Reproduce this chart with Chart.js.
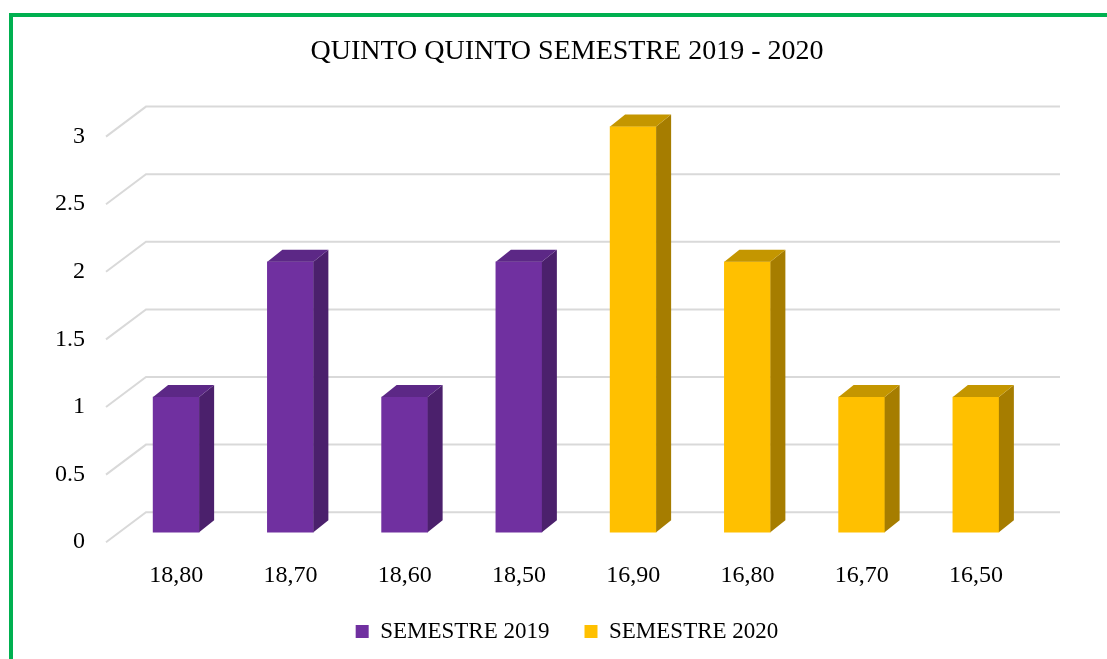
<!DOCTYPE html>
<html lang="es">
<head>
    <meta charset="UTF-8">
    <title>QUINTO QUINTO SEMESTRE 2019 - 2020</title>
    <script src="https://cdn.jsdelivr.net/npm/chart.js"></script>
    <style>
        html, body {
            margin: 0;
            padding: 0;
            background: #fff;
            overflow: hidden;
        }
        .wrap {
            position: relative;
            width: 1107px;
            height: 659px;
        }
        .frame {
            position: absolute;
            left: 9px;
            top: 13px;
            width: 1300px;
            height: 900px;
            border: 4px solid #00b050;
            pointer-events: none;
        }
        canvas {
            position: absolute;
            left: 0;
            top: 0;
        }
    </style>
</head>
<body>
    <div class="wrap">
        <canvas id="myChart" width="1107" height="659"></canvas>
        <div class="frame"></div>
    </div>

    <script>
        const categorias = ['18,80', '18,70', '18,60', '18,50', '16,90', '16,80', '16,70', '16,50'];
        const semestre2019 = [1, 2, 1, 2, null, null, null, null];
        const semestre2020 = [null, null, null, null, 3, 2, 1, 1];
        const titulo = 'QUINTO QUINTO SEMESTRE 2019 - 2020';

        // efecto 3D: paredes con lineas de rejilla y caras laterales/superiores de las barras
        const efecto3D = {
            id: 'efecto3D',
            afterLayout(chart) {
                // dejar sitio a las etiquetas del eje y (se recortan a la caja del eje)
                chart.scales.y.left = 0;
                // subir un poco la leyenda
                chart.legend.top -= 24;
                chart.legend.bottom -= 24;
            },
            beforeDatasetsDraw(chart) {
                const ctx = chart.ctx;
                const y = chart.scales.y;
                const area = chart.chartArea;
                ctx.save();
                ctx.strokeStyle = '#d9d9d9';
                ctx.lineWidth = 2;
                y.ticks.forEach(t => {
                    const py = y.getPixelForValue(t.value);
                    ctx.beginPath();
                    ctx.moveTo(area.left - 13, py);
                    ctx.lineTo(area.left + 27, py - 30);
                    ctx.lineTo(area.right + 27, py - 30);
                    ctx.stroke();
                });
                ctx.restore();
                ctx.save();
                ctx.translate(0, -10);
            },
            afterDatasetsDraw(chart) {
                const ctx = chart.ctx;
                const dx = 15, dy = -12;
                chart.data.datasets.forEach((ds, i) => {
                    const meta = chart.getDatasetMeta(i);
                    meta.data.forEach((bar, j) => {
                        if (ds.data[j] === null) return;
                        const p = bar.getProps(['x', 'y', 'base', 'width'], true);
                        const l = p.x - p.width / 2, r = p.x + p.width / 2;
                        ctx.fillStyle = ds.sideColor;
                        ctx.beginPath();
                        ctx.moveTo(r, p.y);
                        ctx.lineTo(r + dx, p.y + dy);
                        ctx.lineTo(r + dx, p.base + dy);
                        ctx.lineTo(r, p.base);
                        ctx.closePath();
                        ctx.fill();
                        ctx.fillStyle = ds.topColor;
                        ctx.beginPath();
                        ctx.moveTo(l, p.y);
                        ctx.lineTo(l + dx, p.y + dy);
                        ctx.lineTo(r + dx, p.y + dy);
                        ctx.lineTo(r, p.y);
                        ctx.closePath();
                        ctx.fill();
                    });
                });
                ctx.restore();
            }
        };

        const fuente = 'Liberation Serif, Times New Roman, serif';

        const ctx = document.getElementById('myChart').getContext('2d');
        new Chart(ctx, {
            type: 'bar',
            data: {
                labels: categorias,
                datasets: [{
                    label: 'SEMESTRE 2019',
                    data: semestre2019,
                    backgroundColor: '#7030a0',
                    sideColor: '#4b206c',
                    topColor: '#5c2886'
                }, {
                    label: 'SEMESTRE 2020',
                    data: semestre2020,
                    backgroundColor: '#ffc000',
                    sideColor: '#a67d00',
                    topColor: '#c49600'
                }]
            },
            options: {
                responsive: false,
                animation: false,
                layout: {
                    padding: { left: 101, right: 74, top: 0, bottom: -18 }
                },
                datasets: {
                    bar: {
                        skipNull: true,
                        barThickness: 46,
                        clip: false
                    }
                },
                scales: {
                    x: {
                        grid: { display: false, drawTicks: false },
                        border: { display: false },
                        ticks: {
                            padding: 19,
                            color: '#000',
                            font: { family: fuente, size: 24 }
                        }
                    },
                    y: {
                        min: 0,
                        max: 3,
                        grid: { display: false, drawTicks: false },
                        border: { display: false },
                        ticks: {
                            stepSize: 0.5,
                            padding: 34,
                            color: '#000',
                            font: { family: fuente, size: 24 },
                            callback: v => String(v)
                        },
                        afterFit(axis) {
                            axis.width = 18;
                        }
                    }
                },
                plugins: {
                    title: {
                        display: true,
                        text: titulo,
                        color: '#000',
                        font: { family: fuente, size: 28, weight: 'normal' },
                        padding: { top: 35, bottom: 68 }
                    },
                    legend: {
                        position: 'bottom',
                        labels: {
                            boxWidth: 13,
                            boxHeight: 13,
                            padding: 35,
                            color: '#000',
                            font: { family: fuente, size: 23 }
                        }
                    },
                    tooltip: { enabled: false }
                }
            },
            plugins: [efecto3D]
        });
    </script>
</body>
</html>
